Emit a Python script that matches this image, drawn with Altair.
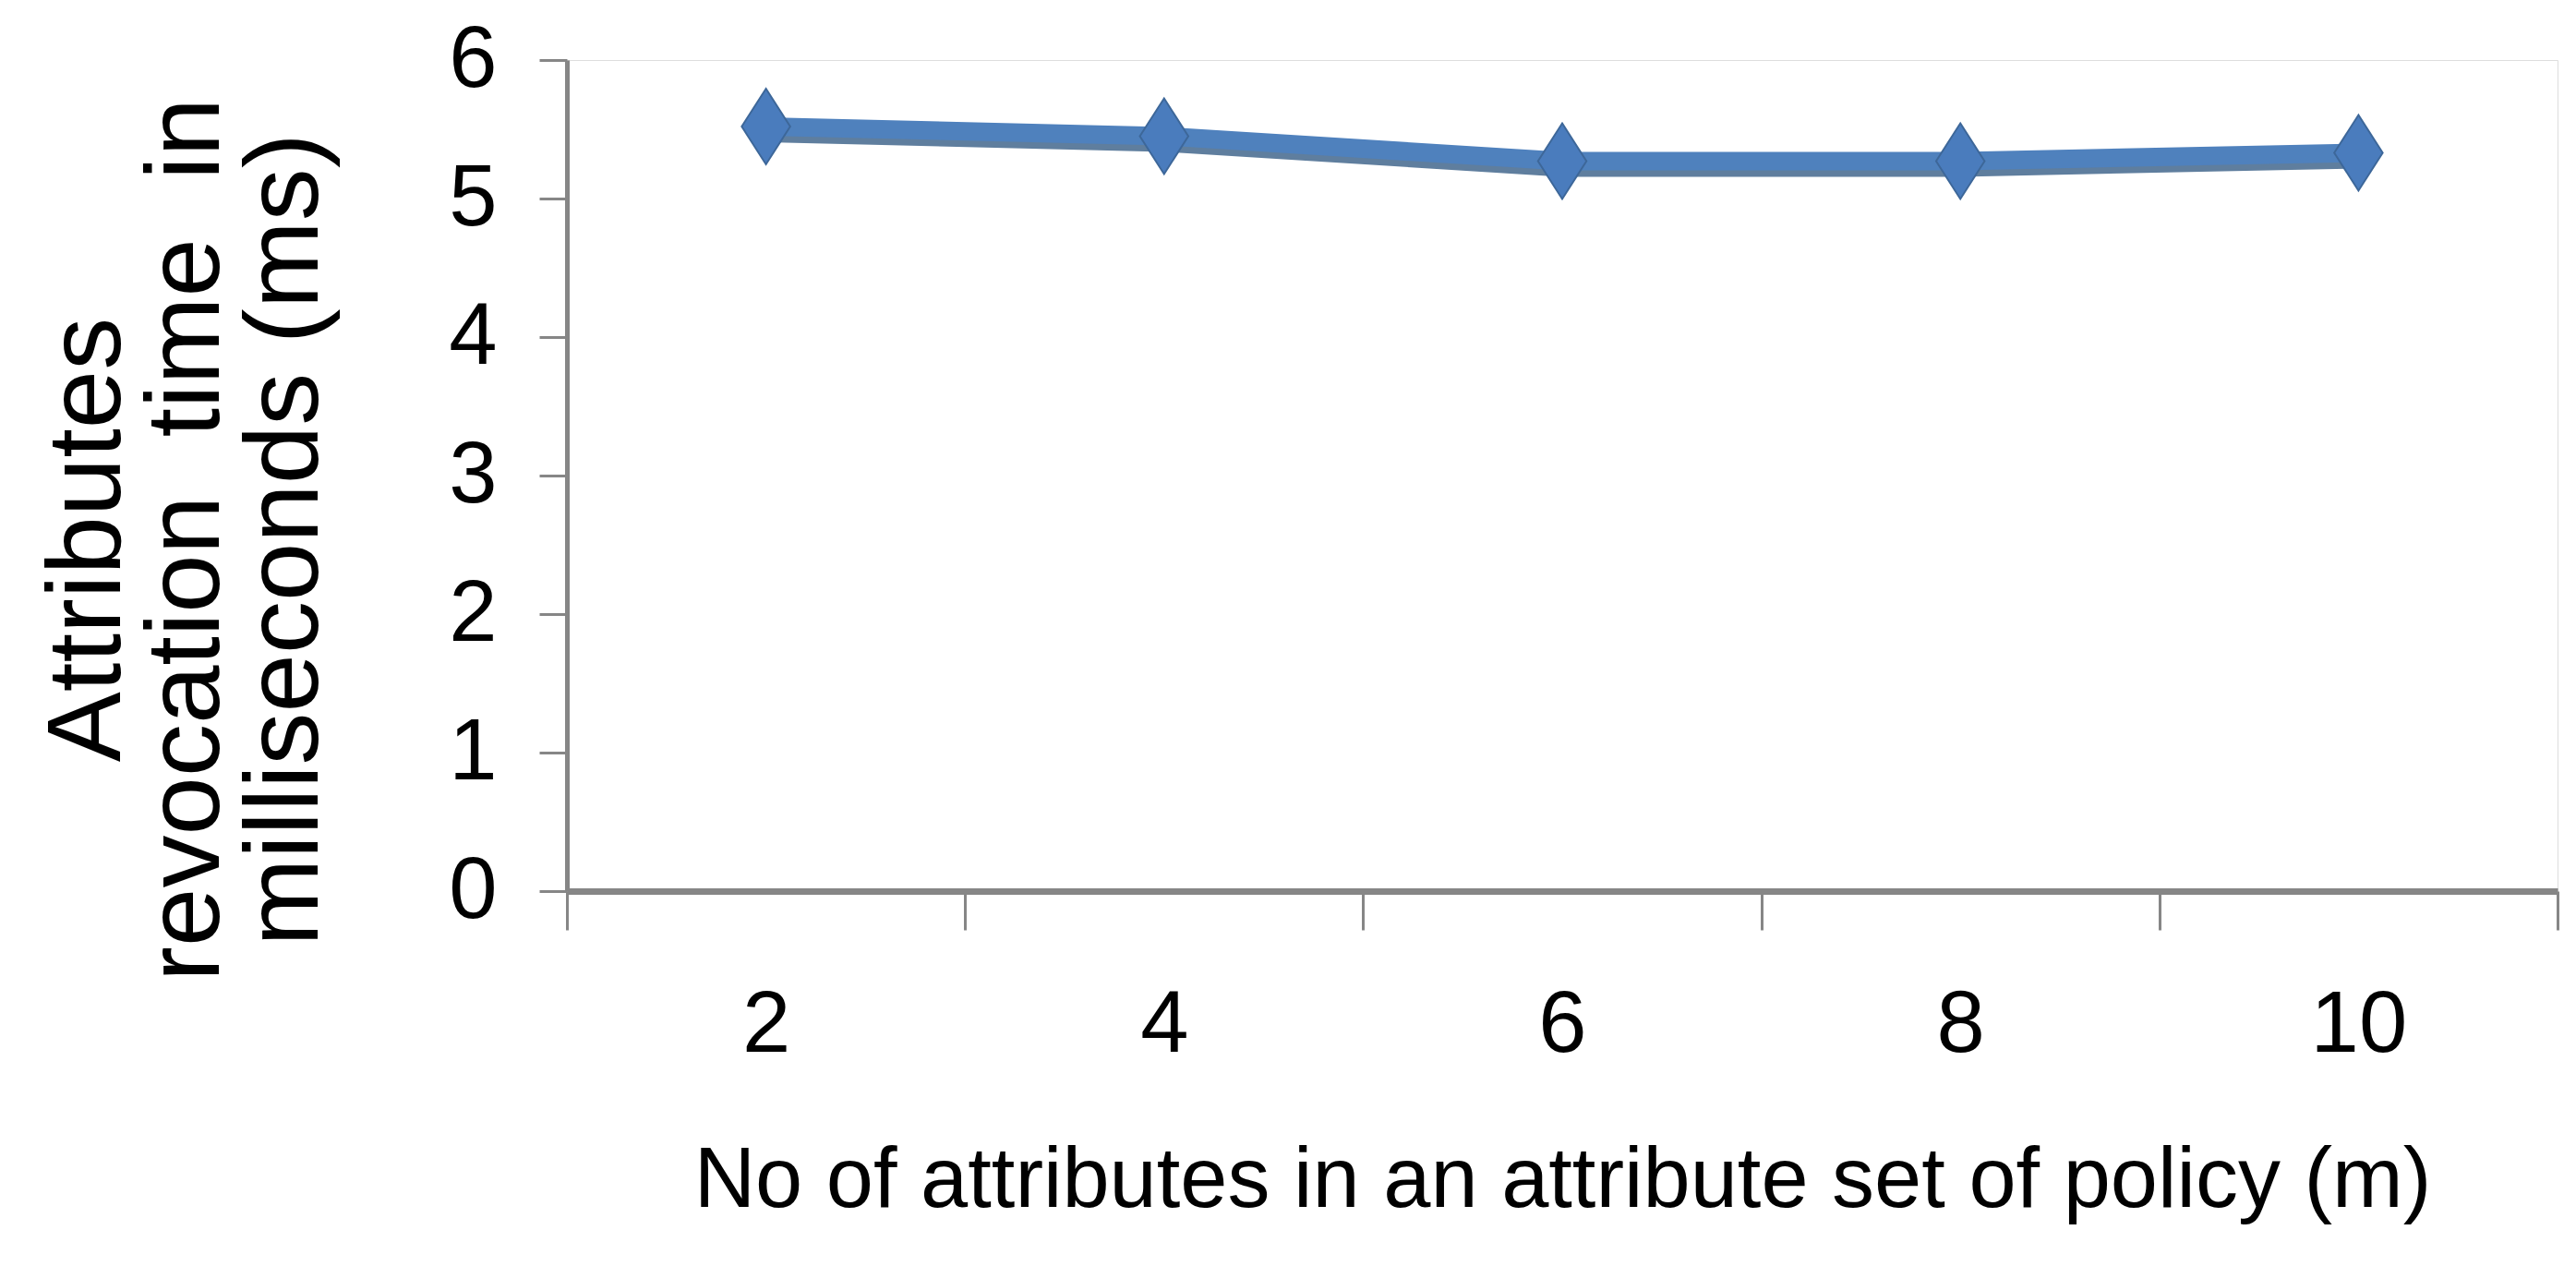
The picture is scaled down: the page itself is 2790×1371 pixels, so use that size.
import altair as alt
import pandas as pd

categories = ["2", "4", "6", "8", "10"]
values = [5.52, 5.45, 5.27, 5.27, 5.33]
y_ticks = [0, 1, 2, 3, 4, 5, 6]
x_title = "No of attributes in an attribute set of policy (m)"
y_title = ["Attributes", "revocation\u00a0\u00a0time\u00a0\u00a0in", "milliseconds (ms)"]

df = pd.DataFrame({"m": categories, "t": values})

FONT = "Liberation Sans, sans-serif"
AX = "#868686"

x_enc = alt.X(
    "m:O",
    sort=categories,
    scale=alt.Scale(type="band", paddingInner=0, paddingOuter=0),
    axis=alt.Axis(
        title=x_title,
        labelAngle=0,
        tickBand="extent",
        domainColor=AX, domainWidth=7,
        tickColor=AX, tickWidth=3, tickSize=42,
        labelFont=FONT, labelFontSize=94, labelColor="#000",
        labelPadding=57,
        titleFont=FONT, titleFontSize=92, titleFontWeight="normal",
        titleColor="#000", titlePadding=76,
        grid=False,
    ),
)
y_enc = alt.Y(
    "t:Q",
    scale=alt.Scale(domain=[0, 6], nice=False, zero=True),
    axis=alt.Axis(
        title=y_title,
        values=y_ticks,
        domainColor=AX, domainWidth=5,
        tickColor=AX, tickWidth=3, tickSize=30,
        labelFont=FONT, labelFontSize=94, labelColor="#000",
        labelPadding=46,
        titleFont=FONT, titleFontSize=114,
        titleFontWeight="normal", titleColor="#000",
        titleLineHeight=107, titlePadding=118, titleY=519,
        grid=False,
    ),
)

shadow = alt.Chart(df).mark_line(
    color="#5F7E9E", strokeWidth=18, yOffset=8
).encode(x=x_enc, y=y_enc)
line = alt.Chart(df).mark_line(color="#4F81BD", strokeWidth=20).encode(x=x_enc, y=y_enc)
pts = alt.Chart(df).mark_point(
    shape="M0,-1L0.64,0L0,1L-0.64,0Z",
    size=6724,
    filled=True,
    fill="#4A7CBD",
    stroke="#3D6799",
    strokeWidth=2,
    opacity=1,
).encode(x=x_enc, y=y_enc)

chart = (
    alt.layer(shadow, line, pts)
    .properties(
        width=2156,
        height=900,
        autosize=alt.AutoSizeParams(type="none"),
        padding={"left": 606, "top": 57, "right": 12, "bottom": 398},
    )
    .configure_view(stroke=None)
    .configure(background="white")
)

chart.save("out.html", embed_options={"renderer": "svg", "actions": False})
